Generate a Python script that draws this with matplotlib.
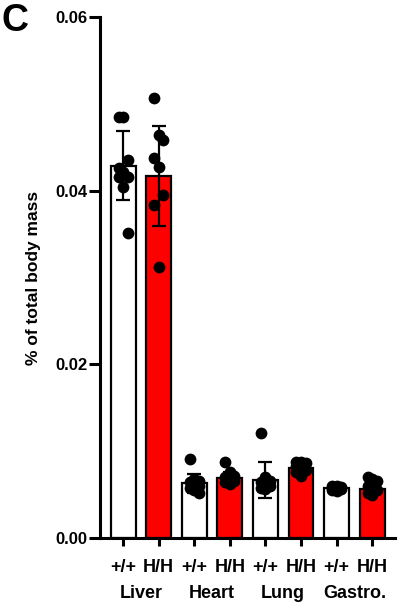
import numpy as np
import matplotlib
matplotlib.use("Agg")
import matplotlib.pyplot as plt
import matplotlib.transforms as mtransforms

plt.rcParams["font.family"] = ["Liberation Sans", "DejaVu Sans"]
plt.rcParams["font.weight"] = "bold"

organs = ["Liver", "Heart", "Lung", "Gastro."]
genotypes = ["+/+", "H/H"]

means = [0.0429, 0.0417, 0.0063, 0.0069, 0.0067, 0.0081, 0.0058, 0.0056]
sds = [0.0040, 0.0058, 0.0011, 0.0007, 0.0021, 0.0007, 0.0003, 0.0007]

points = [
    [0.0485, 0.0485, 0.0435, 0.0426, 0.0422, 0.0416, 0.0416, 0.0404, 0.0351],
    [0.0507, 0.0464, 0.0459, 0.0438, 0.0427, 0.0395, 0.0384, 0.0312],
    [0.0091, 0.0068, 0.0066, 0.0064, 0.0062, 0.0060, 0.0058, 0.0055, 0.0052],
    [0.0088, 0.0076, 0.0072, 0.0070, 0.0068, 0.0066, 0.0064, 0.0062],
    [0.0121, 0.0070, 0.0066, 0.0064, 0.0062, 0.0060, 0.0058, 0.0056],
    [0.0088, 0.0087, 0.0086, 0.0083, 0.0080, 0.0078, 0.0076, 0.0072],
    [0.0060, 0.0060, 0.0059, 0.0058, 0.0057, 0.0056, 0.0055, 0.0054],
    [0.0070, 0.0068, 0.0066, 0.0060, 0.0058, 0.0055, 0.0052, 0.0050],
]

fig = plt.figure(figsize=(4.09, 6.14), dpi=100)
ax = fig.add_axes([0.2445, 0.1238, 0.722, 0.848])

x = np.arange(len(means))
colors = ["white" if i % 2 == 0 else "#ff0000" for i in x]

ax.bar(x, means, width=0.7, color=colors, edgecolor="black", linewidth=1.6, zorder=1)
ax.errorbar(x, means, yerr=sds, fmt="none", ecolor="black", elinewidth=1.6,
            capsize=5, capthick=1.6, zorder=2)

for i, vals in enumerate(points):
    off = (np.arange(len(vals)) % 3 - 1) * 0.13
    ax.scatter(x[i] + off, vals, s=72, color="black", zorder=3, linewidths=0)

ax.set_xlim(-0.65, 7.65)
ax.set_ylim(0, 0.06)
ax.set_yticks([0.00, 0.02, 0.04, 0.06])
ax.set_yticklabels(["0.00", "0.02", "0.04", "0.06"], fontsize=12, fontweight="bold")
ax.set_xticks(x)
ax.set_xticklabels(genotypes * len(organs), fontsize=13, fontweight="bold")
ax.set_ylabel("% of total body mass", fontsize=12.5, fontweight="bold", labelpad=10)

for s in ["top", "right"]:
    ax.spines[s].set_visible(False)
for s in ["left", "bottom"]:
    ax.spines[s].set_linewidth(2.2)
ax.tick_params(axis="y", width=2.2, length=8, direction="out", pad=1)
ax.tick_params(axis="x", width=2.2, length=6, direction="out", pad=9)

trans = mtransforms.blended_transform_factory(ax.transData, ax.transAxes)
for k, name in enumerate(organs):
    ax.text(2 * k + 0.5, -0.09, name, transform=trans, ha="center", va="top",
            fontsize=13, fontweight="bold")

fig.text(0.003, 0.995, "C", fontsize=27, fontweight="bold", va="top", ha="left")

fig.savefig("out.png", dpi=100)
